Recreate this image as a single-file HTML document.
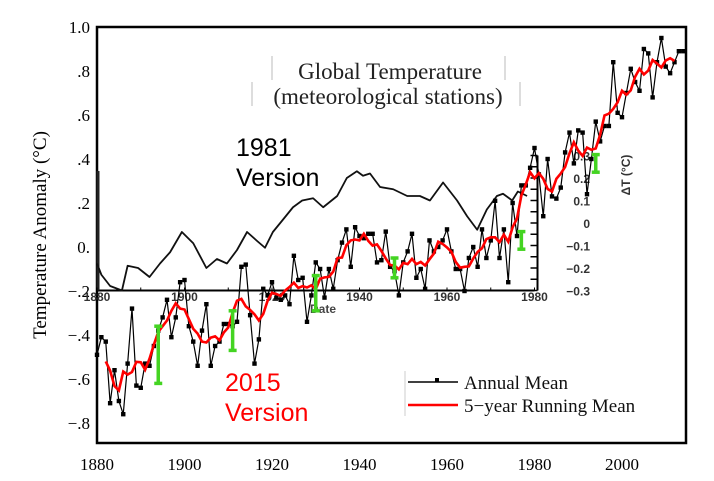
<!DOCTYPE html>
<html><head><meta charset="utf-8"><style>
html,body{margin:0;padding:0;background:#fff;width:714px;height:481px;overflow:hidden}
svg{display:block}
.serif{font-family:"Liberation Serif",serif}
.sans{font-family:"Liberation Sans",sans-serif}
</style></head><body>
<svg id="chart" width="714" height="481" viewBox="0 0 714 481" xmlns="http://www.w3.org/2000/svg">
<g id="axes"></g>
<g id="inset"></g>
<g id="series"></g>
<g id="labels"></g>
</svg>
<script>
// ---- data ----
const years2015 = [];
for (let y = 1880; y <= 2014; y++) years2015.push(y);
const annualMean = [
-0.49,-0.41,-0.43,-0.71,-0.56,-0.70,-0.76,-0.53,-0.28,-0.63,
-0.64,-0.53,-0.54,-0.45,-0.38,-0.32,-0.24,-0.41,-0.32,-0.16,
-0.15,-0.36,-0.43,-0.54,-0.38,-0.26,-0.54,-0.45,-0.43,-0.35,
-0.35,-0.36,-0.34,-0.09,-0.08,-0.31,-0.53,-0.42,-0.19,-0.22,
-0.16,-0.23,-0.24,-0.22,-0.26,-0.04,-0.15,-0.14,-0.34,-0.22,
-0.07,-0.10,-0.23,-0.10,-0.19,-0.06,0.02,0.08,-0.09,0.09,
0.05,0.04,0.06,0.06,-0.07,-0.06,0.07,-0.09,-0.11,-0.22,
-0.07,-0.02,0.06,-0.14,-0.10,-0.19,0.03,-0.02,0.00,0.03,
0.08,-0.02,-0.10,-0.10,-0.20,-0.05,0.00,-0.09,0.08,-0.05,
0.03,0.21,-0.05,0.08,-0.16,0.20,0.05,0.28,0.28,0.36,
0.45,0.33,0.14,0.40,0.23,0.22,0.27,0.43,0.52,0.38,
0.53,0.52,0.24,0.40,0.57,0.48,0.55,0.55,0.84,0.61,
0.59,0.70,0.81,0.75,0.71,0.90,0.88,0.68,0.84,0.95,
0.82,0.79,0.84,0.89,0.89];
const years1981 = [1880,1881,1883,1885.7,1887,1889.4,1892,1894.4,1896.7,1899.4,1902,1905,1907.4,1909.7,1912,1914.3,1916.6,1918.4,1920.2,1922.3,1924.8,1926.9,1929.4,1931.7,1934.9,1937.1,1939.4,1940.8,1942.4,1944.7,1947.7,1950.9,1953.8,1956.1,1959.1,1962.3,1964.6,1966.9,1969.1,1971.4,1972.8,1974.9,1976.2,1978.3];
const values1981 = [-0.18,-0.23,-0.28,-0.30,-0.19,-0.20,-0.24,-0.18,-0.13,-0.04,-0.09,-0.20,-0.16,-0.18,-0.12,-0.04,-0.08,-0.11,-0.04,0.01,0.07,0.10,0.11,0.07,0.12,0.20,0.23,0.21,0.22,0.16,0.15,0.12,0.12,0.10,0.18,0.10,0.03,-0.03,0.06,0.12,0.13,0.10,0.14,0.12];
const errYears = [1894,1911,1930,1948,1977,1994];
const errLow = [-0.62,-0.47,-0.29,-0.14,-0.01,0.34];
const errHigh = [-0.36,-0.29,-0.13,-0.05,0.07,0.42];
const yTicks = [1.0,0.8,0.6,0.4,0.2,0.0,-0.2,-0.4,-0.6,-0.8];
const yTickLabels = ["1.0",".8",".6",".4",".2","0.","\u2212.2","\u2212.4","\u2212.6","\u2212.8"];
const xTicks = [1880,1900,1920,1940,1960,1980,2000];
const insetXTicks = [1880,1900,1920,1940,1960,1980];
const insetYTicks = [0.3,0.2,0.1,0,-0.1,-0.2,-0.3];
const insetYLabels = ["0.3","0.2","0.1","0","\u22120.1","\u22120.2","\u22120.3"];

// ---- scales ----
const X = yr => 97 + (yr - 1880) * 4.375;
const Y = v => 247 - 220 * v;
const YI = v => 223 - 225 * v;
const NS = "http://www.w3.org/2000/svg";
function mk(tag, attrs, parent, text){
  const e = document.createElementNS(NS, tag);
  for (const k in attrs) e.setAttribute(k, attrs[k]);
  if (text !== undefined) e.textContent = text;
  parent.appendChild(e); return e;
}
const axes = document.getElementById('axes');
const inset = document.getElementById('inset');
const series = document.getElementById('series');
const labels = document.getElementById('labels');

let fr = mk('rect',{x:97,y:27,width:589,height:416,fill:'none',stroke:'#000','stroke-width':2.5},axes);


yTicks.forEach((v,i)=>{
  let t = mk('text',{x:90,y:Y(v)+6,'text-anchor':'end','font-size':17,class:'serif',fill:'#000'},axes,yTickLabels[i]);
  
  
});
xTicks.forEach(v=>{
  let t = mk('text',{x:X(v),y:470,'text-anchor':'middle','font-size':17,class:'serif',fill:'#000'},axes,String(v));
  
  
});
let yt = mk('text',{x:0,y:0,transform:'translate(46,235) rotate(-90)','text-anchor':'middle','font-size':19,class:'serif',fill:'#000'},axes,'Temperature Anomaly (\u00B0C)');



// inset (1981 chart)
let ib = mk('line',{x1:X(1880),y1:YI(-0.3),x2:X(1980),y2:YI(-0.3),stroke:'#000','stroke-width':2},inset);


let ia = mk('line',{x1:X(1980)+3,y1:YI(0.3),x2:X(1980)+3,y2:YI(-0.3),stroke:'#000','stroke-width':2},inset);


let il = mk('line',{x1:98,y1:171,x2:98,y2:YI(-0.3),stroke:'#222','stroke-width':3},inset);


for (let v=-0.3; v<=0.31; v+=0.05){
  let tk = mk('line',{x1:X(1980)-4,y1:YI(v),x2:X(1980)+3,y2:YI(v),stroke:'#000','stroke-width':1.5},inset);
  
  
}
for (let yr=1880; yr<=1980; yr+=10){
  let tk = mk('line',{x1:X(yr),y1:YI(-0.3),x2:X(yr),y2:YI(-0.3)-3,stroke:'#000','stroke-width':1},inset);
  
  
}
insetXTicks.forEach(v=>{
  let t = mk('text',{x:X(v),y:301,'text-anchor':'middle','font-size':12,'font-weight':'bold',class:'sans',fill:'#333'},inset,String(v));
  
  
});
insetYTicks.forEach((v,i)=>{
  let t = mk('text',{x:590,y:YI(v)+5,'text-anchor':'end','font-size':12,'font-weight':'bold',class:'sans',fill:'#333'},inset,insetYLabels[i]);
  
  
});
let dl = mk('text',{x:323,y:313,'text-anchor':'middle','font-size':12,'font-weight':'bold',class:'sans',fill:'#444'},inset,'Date');


let dt = mk('text',{x:0,y:0,transform:'translate(630,175) rotate(-90)','text-anchor':'middle','font-size':12,'font-weight':'bold',class:'sans',fill:'#333'},inset,'\u0394T (\u00B0C)');


let p81 = mk('polyline',{points:years1981.map((y,i)=>X(y)+','+YI(values1981[i])).join(' '),fill:'none',stroke:'#111','stroke-width':1.8,'stroke-linejoin':'round'},inset);



// annual mean
let pa = mk('polyline',{points:years2015.map((y,i)=>X(y)+','+Y(annualMean[i])).join(' '),fill:'none',stroke:'#000','stroke-width':1.2},series);


years2015.forEach((y,i)=>{
  let m = mk('rect',{x:X(y)-2.2,y:Y(annualMean[i])-2.2,width:4.4,height:4.4,fill:'#000'},series);
  
  
});
// running mean (5-year centered average of annual values)
const runYears = [], runVals = [];
for (let i=2;i<annualMean.length-2;i++){
  let s=0; for(let j=-2;j<=2;j++) s+=annualMean[i+j];
  runYears.push(years2015[i]); runVals.push(s/5);
}
let pr = mk('polyline',{points:runYears.map((y,i)=>X(y)+','+Y(runVals[i])).join(' '),fill:'none',stroke:'#f00','stroke-width':2.6},series);


errYears.forEach((y,i)=>{
  const x=X(y), y1=Y(errHigh[i]), y2=Y(errLow[i]);
  let g = mk('g',{stroke:'#44d422','stroke-width':3.5},series);
  
  
  mk('line',{x1:x,y1:y1,x2:x,y2:y2},g);
  mk('line',{x1:x-4,y1:y1,x2:x+4,y2:y1},g);
  mk('line',{x1:x-4,y1:y2,x2:x+4,y2:y2},g);
});

// labels
let t1 = mk('text',{x:390,y:79,'text-anchor':'middle','font-size':23,class:'serif',fill:'#222'},labels,'Global Temperature');


let t2 = mk('text',{x:388,y:104,'text-anchor':'middle','font-size':23,class:'serif',fill:'#222'},labels,'(meteorological stations)');


[[272,56,272,80],[505,56,505,80],[252,82,252,106],[520,82,520,106]].forEach(c=>{
  let l = mk('line',{x1:c[0],y1:c[1],x2:c[2],y2:c[3],stroke:'#bbb','stroke-width':1},labels);
  
  
});
let a1 = mk('text',{x:236,y:156,'font-size':25,class:'sans',fill:'#000'},labels,'1981');


let a2 = mk('text',{x:236,y:186,'font-size':25,class:'sans',fill:'#000'},labels,'Version');


let b1 = mk('text',{x:225,y:391,'font-size':25,class:'sans',fill:'#f00'},labels,'2015');


let b2 = mk('text',{x:225,y:421,'font-size':25,class:'sans',fill:'#f00'},labels,'Version');


let lg = mk('g',{},labels);


mk('line',{x1:405,y1:371,x2:405,y2:416,stroke:'#ccc'},lg);
mk('line',{x1:408,y1:382,x2:458,y2:382,stroke:'#000','stroke-width':1.5},lg);
mk('rect',{x:435,y:378,width:4,height:4,fill:'#000'},lg);
let le1 = mk('text',{x:464,y:389,'font-size':19,class:'serif',fill:'#111'},lg,'Annual Mean');


mk('line',{x1:408,y1:405,x2:458,y2:405,stroke:'#f00','stroke-width':2.5},lg);
let le2 = mk('text',{x:464,y:412,'font-size':19,class:'serif',fill:'#111'},lg,'5\u2212year Running Mean');


</script>
</body></html>
